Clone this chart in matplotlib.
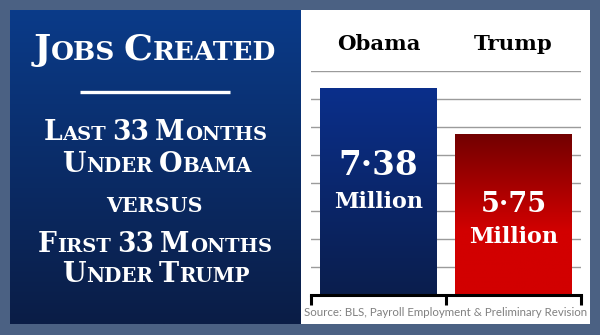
import numpy as np
import matplotlib
matplotlib.use('Agg')
import matplotlib.pyplot as plt
from matplotlib.patches import Rectangle
from matplotlib.lines import Line2D
from matplotlib.colors import LinearSegmentedColormap
import matplotlib.transforms as mtransforms

# ---------------- data ----------------
categories = ["Obama", "Trump"]
values = [7.38, 5.75]
value_labels = ["7·38", "5·75"]
unit_label = "Million"
source_text = "Source: BLS, Payroll Employment & Preliminary Revision"
gridlines = [1, 2, 3, 4, 5, 6, 7, 8]

# small-caps title lines: (text, is_big) segments, None = word gap
title_lines = [
    [("J", 1), ("OBS", 0), None, ("C", 1), ("REATED", 0)],
    [("L", 1), ("AST", 0), None, ("33", 1), None, ("M", 1), ("ONTHS", 0)],
    [("U", 1), ("NDER", 0), None, ("O", 1), ("BAMA", 0)],
    [("VERSUS", 0)],
    [("F", 1), ("IRST", 0), None, ("33", 1), None, ("M", 1), ("ONTHS", 0)],
    [("U", 1), ("NDER", 0), None, ("T", 1), ("RUMP", 0)],
]

# ---------------- layout ----------------
W, H = 600, 335
fig = plt.figure(figsize=(6, 3.35), dpi=100)
fig.patch.set_facecolor('#4b6183')


def fx(x):
    return x / W


def fy(y):
    return (H - y) / H


SERIF = 'DejaVu Serif'

# left blue panel
axL = fig.add_axes([fx(10), fy(324), 291 / W, 314 / H])
grad = np.linspace(0, 1, 256).reshape(-1, 1)
blue_panel = LinearSegmentedColormap.from_list('bp', ['#0a3b89', '#0b1d46'])
axL.imshow(grad, aspect='auto', cmap=blue_panel, extent=[0, 1, 0, 1], origin='upper')
axL.set_axis_off()

# white panel
fig.add_artist(Rectangle((fx(301), fy(324)), 289 / W, 314 / H,
                         transform=fig.transFigure, facecolor='white',
                         edgecolor='none', zorder=-1))

renderer = fig.canvas.get_renderer()


def smallcaps(segments, cx, baseline, target_w, big, small):
    # build, measure, scale to target width, place
    def build(scale):
        arts = []
        widths = []
        for seg in segments:
            if seg is None:
                arts.append(None)
                widths.append(small * scale * 0.32 * 100 / 72)
                continue
            s, isbig = seg
            t = fig.text(0, fy(baseline), s, fontsize=(big if isbig else small) * scale,
                         family=SERIF, fontweight='bold', color='white',
                         ha='left', va='baseline')
            arts.append(t)
            widths.append(t.get_window_extent(renderer).width)
        return arts, widths

    arts, widths = build(1.0)
    total = sum(widths)
    scale = target_w / total
    for a in arts:
        if a is not None:
            a.remove()
    arts, widths = build(scale)
    total = sum(widths)
    x = cx - total / 2
    for a, w in zip(arts, widths):
        if a is not None:
            a.set_x(fx(x))
        x += w


smallcaps(title_lines[0], 155, 60, 243, 24.5, 17.8)
fig.add_artist(Line2D([fx(80), fx(230)], [fy(92), fy(92)], transform=fig.transFigure,
                      color='white', lw=2.4, solid_capstyle='butt'))
smallcaps(title_lines[1], 155, 140, 224, 16.8, 12.3)
smallcaps(title_lines[2], 157, 172, 190, 16.8, 12.3)
smallcaps(title_lines[3], 154, 212, 96, 16.8, 14.0)
smallcaps(title_lines[4], 155, 252, 234, 16.8, 12.3)
smallcaps(title_lines[5], 156, 282, 188, 16.8, 12.3)

# ---------------- chart ----------------
ax = fig.add_axes([fx(311), fy(295), 270 / W, 224 / H])
ax.set_facecolor('none')
x = np.arange(len(categories))
bars = ax.bar(x, values, width=0.86, color='none', zorder=2)

bar_cmaps = [
    LinearSegmentedColormap.from_list('ob', ['#0a2f8b', '#0b1e4d']),
    LinearSegmentedColormap.from_list('tr', [(0, '#720000'), (0.6, '#d20000'), (1, '#d20000')]),
]
for b, cm in zip(bars, bar_cmaps):
    ax.imshow(grad, aspect='auto', cmap=cm, origin='upper', zorder=2,
              extent=[b.get_x(), b.get_x() + b.get_width(), 0, b.get_height()])

ax.set_xlim(-0.5, 1.5)
ax.set_ylim(0, 8)
ax.set_yticks(gridlines)
ax.yaxis.grid(True, color='#9b9b9b', lw=1.0)
ax.set_axisbelow(True)
ax.tick_params(axis='y', length=0, labelleft=False)
ax.set_xticks([-0.5, 0.5, 1.5])
ax.tick_params(axis='x', direction='out', length=7, width=2.2, color='black',
               labelbottom=False)
for s in ['left', 'right', 'top']:
    ax.spines[s].set_visible(False)
ax.spines['bottom'].set_linewidth(2.2)
ax.spines['bottom'].set_color('black')

# category headers
trans = mtransforms.blended_transform_factory(ax.transData, ax.transAxes)
for i, c in enumerate(categories):
    ax.text(i, 1.094, c, transform=trans, ha='center', va='baseline',
            family=SERIF, fontweight='bold', fontsize=15.3, color='black',
            clip_on=False)

# value labels inside bars
num_y = [4.29, 2.96]
num_fs = [23.5, 19.5]
unit_y = [3.11, 1.84]
for i in range(len(categories)):
    ax.text(i, num_y[i], value_labels[i], ha='center', va='baseline', family=SERIF,
            fontweight='bold', fontsize=num_fs[i], color='white', zorder=5)
    ax.text(i, unit_y[i], unit_label, ha='center', va='baseline', family=SERIF,
            fontweight='bold', fontsize=16.0, color='white', zorder=5)

# source
fig.text(fx(446), fy(316.5), source_text, ha='center', va='baseline',
         family='Lato', fontsize=8.3, color='#808080')

fig.savefig('out.png', dpi=100, facecolor=fig.get_facecolor())
